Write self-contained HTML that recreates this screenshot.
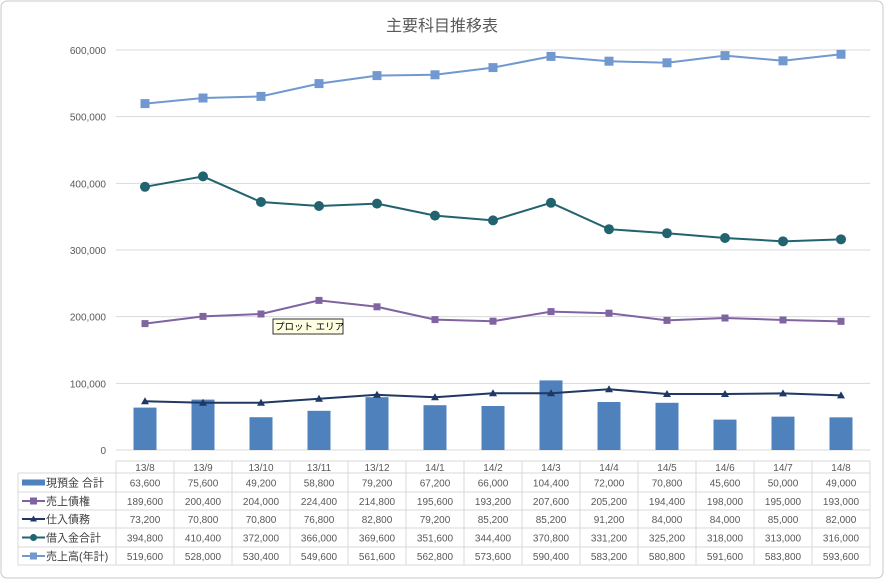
<!DOCTYPE html>
<html><head><meta charset="utf-8">
<style>
body{margin:0;background:#fff;font-family:"Liberation Sans","Noto Sans CJK JP",sans-serif;}
svg{display:block}
text{font-family:"Liberation Sans","Noto Sans CJK JP",sans-serif;}
</style></head>
<body>
<svg id="chart" width="885" height="584">
<rect x="1" y="1" width="882" height="577" rx="6" fill="#fff" stroke="#c8c8c8"/>
<text x="442" y="31" text-anchor="middle" font-size="16" fill="#595959">主要科目推移表</text>
<g id="grid"></g><g id="marks"></g><g id="table"></g>
<g><rect x="273" y="319" width="70" height="15" fill="#ffffe1" stroke="#000" stroke-width="0.8"/><text x="275" y="330" font-size="9.5" fill="#000">プロット エリア</text></g>
</svg>
<script>
const categories=["13/8","13/9","13/10","13/11","13/12","14/1","14/2","14/3","14/4","14/5","14/6","14/7","14/8"];
const cash=[63600,75600,49200,58800,79200,67200,66000,104400,72000,70800,45600,50000,49000];
const receivables=[189600,200400,204000,224400,214800,195600,193200,207600,205200,194400,198000,195000,193000];
const payables=[73200,70800,70800,76800,82800,79200,85200,85200,91200,84000,84000,85000,82000];
const borrowings=[394800,410400,372000,366000,369600,351600,344400,370800,331200,325200,318000,313000,316000];
const sales=[519600,528000,530400,549600,561600,562800,573600,590400,583200,580800,591600,583800,593600];
const yTicks=[0,100000,200000,300000,400000,500000,600000];
const NS="http://www.w3.org/2000/svg";
const L=116,colW=58,Y0=450,Y1=50,YMAX=600000;
const x=i=>L+colW*i+colW/2;
const y=v=>Y0-(Y0-Y1)*v/YMAX;
const fmt=v=>v.toLocaleString("en-US");
function mk(p,t,a){const e=document.createElementNS(NS,t);for(const k in a)e.setAttribute(k,a[k]);p.appendChild(e);return e;}
const grid=document.getElementById("grid"),marks=document.getElementById("marks"),tbl=document.getElementById("table");
yTicks.forEach(v=>{
 const l=mk(grid,"line",{x1:L,x2:870,y1:y(v),y2:y(v),stroke:"#d9d9d9"});
 
 
 const t=mk(grid,"text",{x:106,y:y(v)+4,"text-anchor":"end","font-size":"10",fill:"#595959"});
 t.textContent=fmt(v);
 
 
});
cash.forEach((v,i)=>{
 const r=mk(marks,"rect",{x:x(i)-11.5,y:y(v),width:23,height:Y0-y(v),fill:"#4f81bd"});
 
 
});
const series=[
 {d:receivables,c:"#8064a2",m:"sq",s:7,n:"receivables"},
 {d:payables,c:"#1f3864",m:"tri",s:8,n:"payables"},
 {d:borrowings,c:"#21636f",m:"circ",s:10,n:"borrowings"},
 {d:sales,c:"#7199cf",m:"sq",s:9,n:"sales"}];
function marker(g,m,cx,cy,s,c){
 if(m==="sq")return mk(g,"rect",{x:cx-s/2,y:cy-s/2,width:s,height:s,fill:c});
 if(m==="circ")return mk(g,"circle",{cx:cx,cy:cy,r:s/2,fill:c});
 return mk(g,"polygon",{points:`${cx},${cy-s/2} ${cx-s/2},${cy+s/2-1} ${cx+s/2},${cy+s/2-1}`,fill:c});
}
series.forEach(S=>{
 const p=mk(marks,"polyline",{points:S.d.map((v,i)=>x(i)+","+y(v)).join(" "),fill:"none",stroke:S.c,"stroke-width":"2"});
 
 
 S.d.forEach((v,i)=>{const e=marker(marks,S.m,x(i),y(v),S.s,S.c);
  
  });
});
const rowsY=[461,473,492,510,528,547,565];
const lc="#d9d9d9";
mk(tbl,"line",{x1:L,x2:870,y1:461,y2:461,stroke:lc});
for(let r=1;r<rowsY.length;r++)mk(tbl,"line",{x1:18,x2:870,y1:rowsY[r],y2:rowsY[r],stroke:lc});
mk(tbl,"line",{x1:18,x2:18,y1:473,y2:565,stroke:lc});
for(let c=0;c<=13;c++)mk(tbl,"line",{x1:L+colW*c,x2:L+colW*c,y1:461,y2:565,stroke:lc});
categories.forEach((c,i)=>{const t=mk(tbl,"text",{x:x(i),y:471,"text-anchor":"middle","font-size":"10",fill:"#595959"});t.textContent=c;
 
 });
const rowNames=["現預金 合計","売上債権","仕入債務","借入金合計","売上高(年計)"];
const rowData=[cash,receivables,payables,borrowings,sales];
const keys=[{c:"#4f81bd",m:"bar"},{c:"#8064a2",m:"sq",s:7},{c:"#1f3864",m:"tri",s:7},{c:"#21636f",m:"circ",s:7},{c:"#7199cf",m:"sq",s:7}];
rowData.forEach((d,r)=>{
 const cy=(rowsY[r+1]+rowsY[r+2])/2;
 const k=keys[r];
 const g=mk(tbl,"g",{});
 
 
 if(k.m==="bar")mk(g,"rect",{x:22,y:cy-3,width:23,height:6,fill:k.c});
 else{mk(g,"line",{x1:22,x2:45,y1:cy,y2:cy,stroke:k.c,"stroke-width":"2"});marker(g,k.m,33.5,cy,k.s,k.c);}
 const t=mk(g,"text",{x:46,y:cy+4,"font-size":"11",fill:"#404040"});t.textContent=rowNames[r];
 d.forEach((v,i)=>{const tv=mk(tbl,"text",{x:x(i),y:cy+4,"text-anchor":"middle","font-size":"10",fill:"#595959"});tv.textContent=fmt(v);
  
  });
});
</script>
</body></html>
